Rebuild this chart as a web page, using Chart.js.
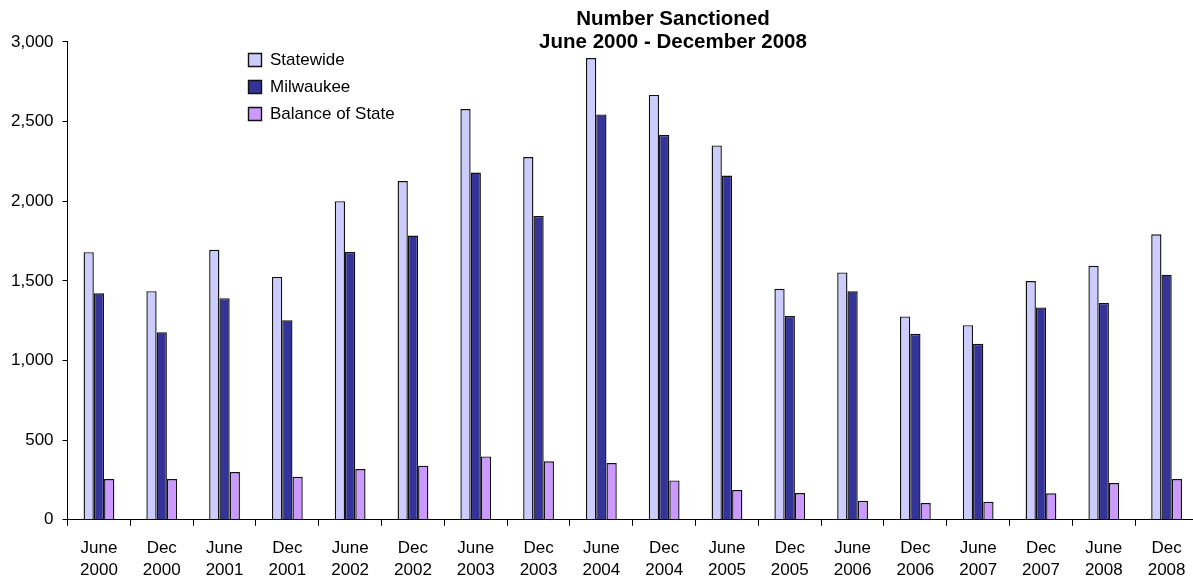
<!DOCTYPE html>
<html>
<head>
<meta charset="utf-8">
<script src="https://cdn.jsdelivr.net/npm/chart.js@4.4.1/dist/chart.umd.min.js"></script>
<style>
  html, body { margin: 0; padding: 0; background: #fff; overflow: hidden; }
  #wrap { position: relative; width: 1200px; height: 580px; }
</style>
</head>
<body>
<div id="wrap"><canvas id="c"></canvas></div>
<script>
const categories = [
  ['June','2000'],['Dec','2000'],['June','2001'],['Dec','2001'],
  ['June','2002'],['Dec','2002'],['June','2003'],['Dec','2003'],
  ['June','2004'],['Dec','2004'],['June','2005'],['Dec','2005'],
  ['June','2006'],['Dec','2006'],['June','2007'],['Dec','2007'],
  ['June','2008'],['Dec','2008']
];
const statewide = [1680,1435,1695,1525,2000,2127,2579,2277,2899,2667,2350,1450,1553,1277,1222,1499,1595,1792];
const milwaukee = [1422,1177,1391,1252,1681,1784,2180,1907,2545,2415,2161,1279,1434,1168,1105,1333,1361,1539];
const balanceOfState = [256,256,300,270,319,340,398,367,356,247,187,168,119,105,113,166,231,256];
const titleLines = ['Number Sanctioned', 'June 2000 - December 2008'];
const seriesNames = ['Statewide', 'Milwaukee', 'Balance of State'];

Chart.defaults.font.family = "'Liberation Sans', Arial, Helvetica, sans-serif";
Chart.defaults.color = '#000';

const shiftPlugin = {
  id: 'shiftBoxes',
  afterLayout(chart) {
    const t = chart.titleBlock;
    if (t) {
      const w = t.right - t.left;
      const cx = 673;
      t.left = cx - w / 2;
      t.right = cx + w / 2;
    }
    const l = chart.legend;
    if (l) {
      const h = l.bottom - l.top;
      l.left = 238.5;
      l.top = 41.5;
      l.bottom = l.top + h;
    }
  }
};

new Chart(document.getElementById('c'), {
  type: 'bar',
  data: {
    labels: categories,
    datasets: [
      { label: seriesNames[0], data: statewide, backgroundColor: '#CCCCFF', borderColor: '#111', borderWidth: 1.4 },
      { label: seriesNames[1], data: milwaukee, backgroundColor: '#333399', borderColor: '#111', borderWidth: 1.4 },
      { label: seriesNames[2], data: balanceOfState, backgroundColor: '#CC99FF', borderColor: '#111', borderWidth: 1.4 }
    ]
  },
  options: {
    responsive: true,
    maintainAspectRatio: false,
    animation: false,
    categoryPercentage: 0.49,
    barPercentage: 1,
    layout: { padding: { left: 2, right: 2, top: 0, bottom: -12 } },
    plugins: {
      tooltip: { enabled: false },
      title: {
        display: true,
        text: titleLines,
        color: '#000',
        font: { size: 20.5, weight: 'bold', lineHeight: 1.12 },
        padding: { top: 7.5, bottom: -11.5 }
      },
      legend: {
        display: true,
        position: 'chartArea',
        align: 'start',
        labels: {
          boxWidth: 13,
          boxHeight: 13,
          padding: 10,
          color: '#000',
          font: { size: 17 }
        }
      }
    },
    scales: {
      x: {
        grid: { display: true, drawOnChartArea: false, drawTicks: true, tickLength: 6, color: '#000', offset: true },
        border: { display: true, color: '#000', width: 1 },
        ticks: { autoSkip: false, maxRotation: 0, minRotation: 0, padding: 11, color: '#000', font: { size: 17, lineHeight: 1.3 } }
      },
      y: {
        min: 0,
        max: 3000,
        grid: { display: true, drawOnChartArea: false, drawTicks: true, tickLength: 5, color: '#000' },
        border: { display: true, color: '#000', width: 1 },
        ticks: {
          stepSize: 500,
          padding: 9,
          color: '#000',
          font: { size: 17 },
          callback: (v) => Number(v).toLocaleString('en-US')
        }
      }
    }
  },
  plugins: [shiftPlugin]
});
</script>
</body>
</html>
